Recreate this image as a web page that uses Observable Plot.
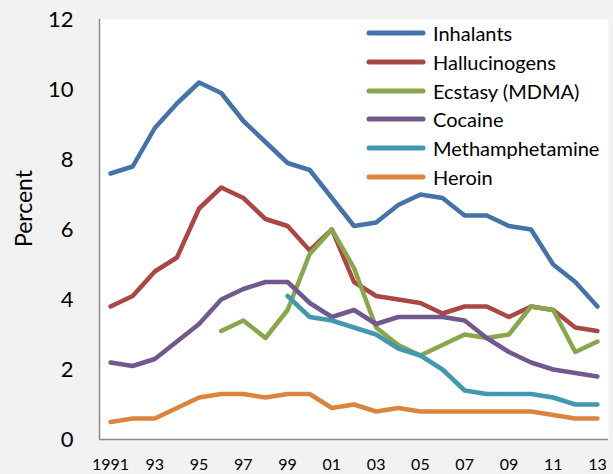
<!DOCTYPE html>
<html>
<head>
<meta charset="utf-8">
<script src="https://cdn.jsdelivr.net/npm/d3@7"></script>
<script src="https://cdn.jsdelivr.net/npm/@observablehq/plot@0.6"></script>
<style>
  html, body { margin: 0; padding: 0; background: #f2f2f2; }
  #wrap { position: relative; width: 613px; height: 474px; font-family: Lato, "Open Sans", sans-serif; }
  #legend { position: absolute; left: 366px; top: 19px; }
  .row { display: flex; align-items: center; height: 28.7px; }
  .row svg { display: block; margin-right: 7px; }
  .row span { font-size: 20px; color: #000; line-height: 1; }
</style>
</head>
<body>
<div id="wrap"></div>
<script>
const years = d3.range(1991, 2014);
const seriesNames = ["Inhalants", "Hallucinogens", "Ecstasy (MDMA)", "Cocaine", "Methamphetamine", "Heroin"];
const seriesColors = ["#4572a7", "#aa4643", "#89a54e", "#71588f", "#4198af", "#db843d"];

const inhalants     = [7.6, 7.8, 8.9, 9.6, 10.2, 9.9, 9.1, 8.5, 7.9, 7.7, 6.9, 6.1, 6.2, 6.7, 7.0, 6.9, 6.4, 6.4, 6.1, 6.0, 5.0, 4.5, 3.8];
const hallucinogens = [3.8, 4.1, 4.8, 5.2, 6.6, 7.2, 6.9, 6.3, 6.1, 5.4, 6.0, 4.5, 4.1, 4.0, 3.9, 3.6, 3.8, 3.8, 3.5, 3.8, 3.7, 3.2, 3.1];
const ecstasy       = [null, null, null, null, null, 3.1, 3.4, 2.9, 3.7, 5.3, 6.0, 4.9, 3.2, 2.7, 2.4, 2.7, 3.0, 2.9, 3.0, 3.8, 3.7, 2.5, 2.8];
const cocaine       = [2.2, 2.1, 2.3, 2.8, 3.3, 4.0, 4.3, 4.5, 4.5, 3.9, 3.5, 3.7, 3.3, 3.5, 3.5, 3.5, 3.4, 2.9, 2.5, 2.2, 2.0, 1.9, 1.8];
const meth          = [null, null, null, null, null, null, null, null, 4.1, 3.5, 3.4, 3.2, 3.0, 2.6, 2.4, 2.0, 1.4, 1.3, 1.3, 1.3, 1.2, 1.0, 1.0];
const heroin        = [0.5, 0.6, 0.6, 0.9, 1.2, 1.3, 1.3, 1.2, 1.3, 1.3, 0.9, 1.0, 0.8, 0.9, 0.8, 0.8, 0.8, 0.8, 0.8, 0.8, 0.7, 0.6, 0.6];

const yTicks = [0, 2, 4, 6, 8, 10, 12];
const xTicks = d3.range(1991, 2014, 2);
const xTickLabels = ["1991", "93", "95", "97", "99", "01", "03", "05", "07", "09", "11", "13"];
const xDomain = [1990.5, 2013.5];

const allSeries = [inhalants, hallucinogens, ecstasy, cocaine, meth, heroin];
const rows = [];
allSeries.forEach((vals, si) => {
  vals.forEach((v, i) => {
    if (v != null) rows.push({series: seriesNames[si], year: years[i], value: v});
  });
});

const chart = Plot.plot({
  width: 613,
  height: 474,
  marginLeft: 99,
  marginRight: 5,
  marginTop: 19,
  marginBottom: 35,
  style: {background: "transparent", fontFamily: "Lato, 'Open Sans', sans-serif", color: "#000"},
  x: {domain: xDomain},
  y: {domain: [0, 12]},
  color: {domain: seriesNames, range: seriesColors},
  marks: [
    Plot.frame({fill: "white", stroke: "none"}),
    Plot.ruleY([0], {stroke: "#8c8c8c", strokeWidth: 1.5}),
    Plot.ruleX([xDomain[0]], {stroke: "#8c8c8c", strokeWidth: 1.5}),
    Plot.axisY({ticks: yTicks, tickSize: 0, tickPadding: 26, fontSize: 22, label: null}),
    Plot.axisX({ticks: xTicks, tickSize: 0, tickPadding: 19, fontSize: 16, label: null,
      tickFormat: (d) => xTickLabels[xTicks.indexOf(d)]}),
    Plot.text(["Percent"], {frameAnchor: "left", textAnchor: "middle", rotate: -90, dx: -75, dy: -21, fontSize: 23, fill: "#000"}),
    Plot.line(rows, {x: "year", y: "value", z: "series", stroke: "series", strokeWidth: 4.5,
      strokeLinejoin: "round", strokeLinecap: "round"})
  ]
});

const wrap = document.getElementById("wrap");
wrap.appendChild(chart);

const legend = document.createElement("div");
legend.id = "legend";
seriesNames.forEach((name, i) => {
  const row = document.createElement("div");
  row.className = "row";
  row.innerHTML = `<svg width="60" height="10"><line x1="3" y1="5" x2="57" y2="5" stroke="${seriesColors[i]}" stroke-width="5" stroke-linecap="round"/></svg><span>${name}</span>`;
  legend.appendChild(row);
});
wrap.appendChild(legend);
</script>
</body>
</html>
